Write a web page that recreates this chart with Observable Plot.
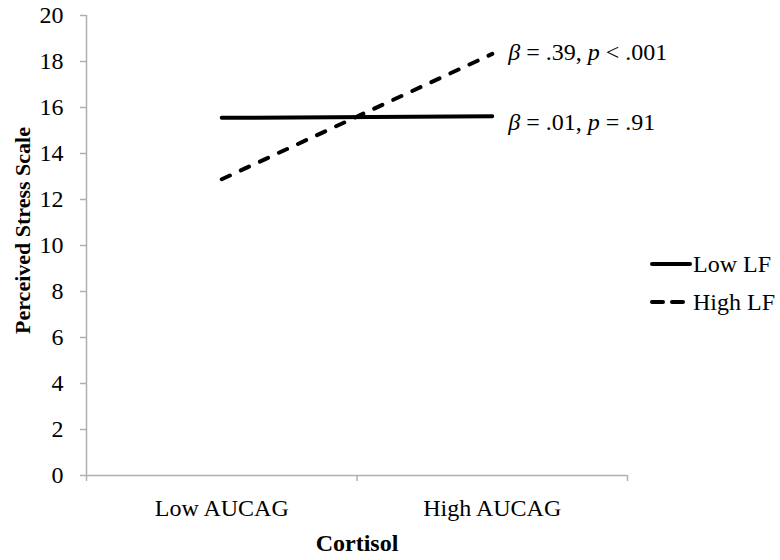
<!DOCTYPE html>
<html>
<head>
<meta charset="utf-8">
<script src="https://cdn.jsdelivr.net/npm/d3@7"></script>
<script src="https://cdn.jsdelivr.net/npm/@observablehq/plot@0.6"></script>
<style>
  html, body { margin: 0; padding: 0; background: #fff; }
  #wrap { position: relative; width: 780px; height: 560px; font-family: "Liberation Serif", "Times New Roman", serif; }
  #legend { position: absolute; left: 650px; top: 245px; font-size: 24px; color: #000; }
  #legend .row { display: flex; align-items: center; height: 38px; }
  #legend svg { width: 42px; height: 10px; margin-right: 1px; }
</style>
</head>
<body>
<div id="wrap"><div id="legend"></div></div>
<script>
// ---- data ----
const categories = ["Low AUCAG", "High AUCAG"];
const seriesNames = ["Low LF", "High LF"];
const lowLF = [15.55, 15.62];
const highLF = [12.88, 18.33];
const annotations = ["β = .01, p = .91", "β = .39, p < .001"];
const yTicks = [0, 2, 4, 6, 8, 10, 12, 14, 16, 18, 20];
const xTitle = "Cortisol";
const yTitle = "Perceived Stress Scale";

const values = [lowLF, highLF];
const rows = [];
seriesNames.forEach((s, si) => {
  categories.forEach((c, ci) => rows.push({series: s, cat: c, x: ci + 0.5, y: values[si][ci]}));
});
const ends = seriesNames.map((s, si) => ({series: s, x: categories.length - 0.5, y: values[si][categories.length - 1], label: annotations[si]}));

const gray = "#b0b0b0";
const dash = "9,12";

const chart = Plot.plot({
  width: 780,
  height: 560,
  marginLeft: 86,
  marginRight: 153,
  marginTop: 15,
  marginBottom: 85,
  style: {fontFamily: "Liberation Serif, Times New Roman, serif", fontSize: "24px", color: "#000", background: "#fff"},
  x: {type: "linear", domain: [0, categories.length]},
  y: {domain: [0, 20]},
  marks: [
    Plot.ruleX([0], {stroke: gray, strokeWidth: 1.5}),
    Plot.ruleY([0], {stroke: gray, strokeWidth: 1.5}),
    Plot.axisY({ticks: yTicks, tickSize: 6, tickPadding: 17, stroke: gray, strokeWidth: 1.5, label: null, fontSize: 24}),
    Plot.axisX({ticks: d3.range(categories.length + 1), tickSize: 6, tickFormat: () => "", stroke: gray, strokeWidth: 1.5, label: null}),
    Plot.axisX({ticks: categories.map((c, i) => i + 0.5), tickSize: 0, tickPadding: 23, tickFormat: d => categories[Math.floor(d)], label: null, fontSize: 24}),
    Plot.text([xTitle], {frameAnchor: "bottom", dy: 75, lineAnchor: "bottom", fontWeight: "bold", fontSize: 24}),
    Plot.text([yTitle], {frameAnchor: "left", textAnchor: "middle", dx: -64, dy: -15, rotate: -90, fontWeight: "bold", fontSize: 22}),
    Plot.line(rows.filter(d => d.series === "Low LF"), {x: "x", y: "y", stroke: "#000", strokeWidth: 4, strokeLinecap: "round"}),
    Plot.line(rows.filter(d => d.series === "High LF"), {x: "x", y: "y", stroke: "#000", strokeWidth: 4, strokeLinecap: "round", strokeDasharray: dash}),
    Plot.text(ends.filter(d => d.series === "Low LF"), {x: "x", y: "y", text: "label", textAnchor: "start", dx: 16, dy: 6, fontSize: 24}),
    Plot.text(ends.filter(d => d.series === "High LF"), {x: "x", y: "y", text: "label", textAnchor: "start", dx: 16, dy: -2, fontSize: 24})
  ]
});

// italicise statistical symbols
d3.select(chart).selectAll("text").each(function() {
  const t = this.textContent;
  if (!t.includes("β")) return;
  const parts = t.split(/(β|\bp\b)/).filter(s => s.length);
  const sel = d3.select(this);
  sel.text(null);
  parts.forEach(p => {
    const ts = sel.append("tspan").text(p);
    if (p === "β" || p === "p") ts.attr("font-style", "italic");
  });
});

document.getElementById("wrap").prepend(chart);
chart.style.position = "absolute";
chart.style.left = "0";
chart.style.top = "0";

// legend
const legend = d3.select("#legend").style("z-index", 2);
seriesNames.forEach(s => {
  const row = legend.append("div").attr("class", "row");
  const sv = row.append("svg");
  sv.append("line").attr("x1", 2).attr("x2", 40).attr("y1", 5).attr("y2", 5)
    .attr("stroke", "#000").attr("stroke-width", 4).attr("stroke-linecap", "round")
    .attr("stroke-dasharray", s === "High LF" ? "11,9" : null);
  row.append("span").text(s);
});
</script>
</body>
</html>
